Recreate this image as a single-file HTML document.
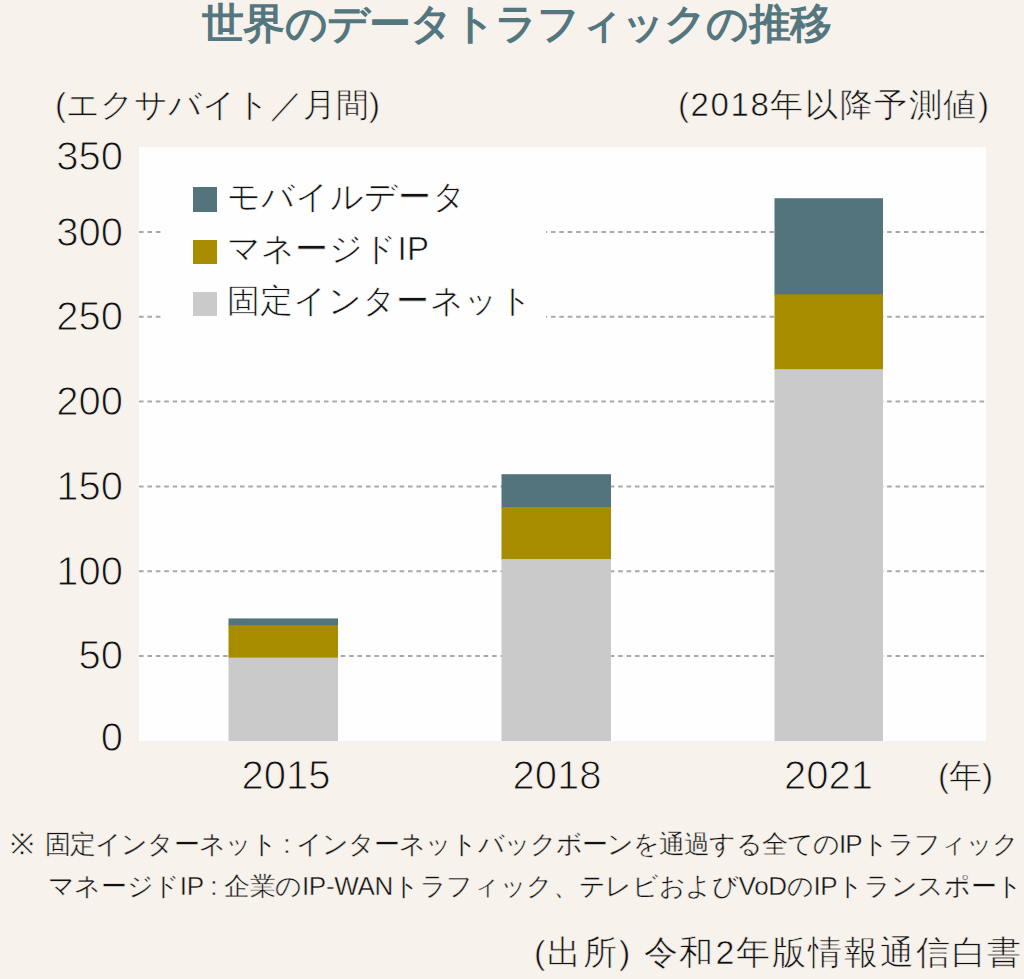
<!DOCTYPE html>
<html><head><meta charset="utf-8">
<style>
html,body{margin:0;padding:0;}
body{width:1024px;height:979px;background:#f7f2ec;position:relative;overflow:hidden;font-family:"Liberation Sans",sans-serif;color:#111;-webkit-text-stroke:0.6px #f7f2ec;}
.t{position:absolute;white-space:nowrap;line-height:1;}
#title{left:202px;top:3px;font-size:42px;letter-spacing:-0.71px;font-weight:bold;color:#53767f;-webkit-text-stroke:0;}
#plot{position:absolute;left:139px;top:147px;width:847px;height:594px;background:#fefefe;}
svg{position:absolute;left:0;top:0;}
.yl{position:absolute;right:901px;font-size:40px;line-height:1;white-space:nowrap;-webkit-text-stroke:1px #f7f2ec;}
.xl{position:absolute;font-size:40px;line-height:1;white-space:nowrap;-webkit-text-stroke:1px #f7f2ec;}
.sq{position:absolute;left:192.7px;width:24.5px;height:24.5px;}
.lg{position:absolute;left:226.5px;letter-spacing:0.4px;font-size:33px;line-height:1;white-space:nowrap;-webkit-text-stroke:0.6px #fefefe;}
</style></head><body>
<div class="t" id="title">世界のデータトラフィックの推移</div>
<div class="t" style="left:55px;top:88px;font-size:33px;">(エクサバイト／月間)</div>
<div class="t" style="left:678px;top:88px;font-size:33px;letter-spacing:1.6px">(2018年以降予測値)</div>
<div id="plot"></div>
<svg width="1024" height="979">
 <g stroke="#a9a9a9" stroke-width="2" stroke-dasharray="4.6 3.806">
  <line x1="139" x2="986" y1="656.1" y2="656.1"/>
  <line x1="139" x2="986" y1="571.3" y2="571.3"/>
  <line x1="139" x2="986" y1="486.4" y2="486.4"/>
  <line x1="139" x2="986" y1="401.6" y2="401.6"/>
  <line x1="139" x2="986" y1="316.7" y2="316.7"/>
  <line x1="139" x2="986" y1="231.9" y2="231.9"/>
 </g>
 <rect x="161" y="160" width="385" height="180" fill="#fefefe"/>
 <g>
  <rect x="228.5" y="618.4" width="109.5" height="7.8" fill="#53747c"/>
  <rect x="228.5" y="625.2" width="109.5" height="33.4" fill="#a88c00"/>
  <rect x="228.5" y="657.6" width="109.5" height="83.4" fill="#c9cac9"/>
  <rect x="501.5" y="474.2" width="109.5" height="33.8" fill="#53747c"/>
  <rect x="501.5" y="507" width="109.5" height="53" fill="#a88c00"/>
  <rect x="501.5" y="559" width="109.5" height="182" fill="#c9cac9"/>
  <rect x="774.5" y="198.2" width="108.5" height="97.1" fill="#53747c"/>
  <rect x="774.5" y="294.3" width="108.5" height="75.8" fill="#a88c00"/>
  <rect x="774.5" y="369.1" width="108.5" height="371.9" fill="#c9cac9"/>
 </g>
</svg>
<div class="sq" style="top:187px;background:#53747c"></div>
<div class="sq" style="top:239.5px;background:#a88c00"></div>
<div class="sq" style="top:291.5px;background:#c9cac9"></div>
<div class="lg" style="top:180px">モバイルデータ</div>
<div class="lg" style="top:232px">マネージドIP</div>
<div class="lg" style="top:284px">固定インターネット</div>
<div class="yl" style="top:135.7px">350</div>
<div class="yl" style="top:211.6px">300</div>
<div class="yl" style="top:296.2px">250</div>
<div class="yl" style="top:381.1px">200</div>
<div class="yl" style="top:465.9px">150</div>
<div class="yl" style="top:550.8px">100</div>
<div class="yl" style="top:634.5px">50</div>
<div class="yl" style="top:716.9px">0</div>
<div class="xl" style="left:241.5px;top:754.5px">2015</div>
<div class="xl" style="left:512.5px;top:754.5px">2018</div>
<div class="xl" style="left:784px;top:754.5px">2021</div>
<div class="t" style="left:938px;top:759px;font-size:33px">(年)</div>
<div class="t" style="left:10px;top:830px;font-size:29px;-webkit-text-stroke:0.5px #f7f2ec">※</div>
<div class="t" style="left:45px;top:831px;font-size:26px;-webkit-text-stroke:0.4px #f7f2ec;letter-spacing:-0.9px">固定インターネット : インターネットバックボーンを通過する全てのIPトラフィック</div>
<div class="t" style="left:47.5px;top:873px;font-size:26px;-webkit-text-stroke:0.4px #f7f2ec;letter-spacing:-0.33px">マネージドIP : 企業のIP-WANトラフィック、テレビおよびVoDのIPトランスポート</div>
<div class="t" style="left:534px;top:935px;font-size:34px;letter-spacing:1.9px">(出所) 令和2年版情報通信白書</div>
</body></html>
